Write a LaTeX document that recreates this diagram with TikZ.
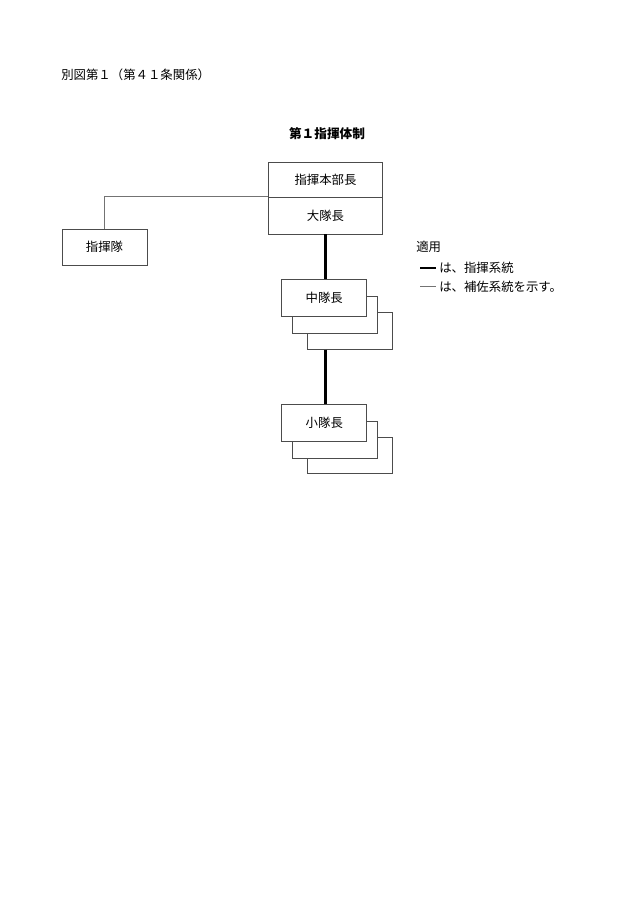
\documentclass[tikz,border=0pt]{standalone}
\usepackage{fontspec}
\setmainfont{Noto Sans CJK JP}
\newfontfamily\jpb{Noto Sans CJK JP}[BoldFont={* Bold}]
\begin{document}
\begin{tikzpicture}[x=0.75pt,y=-0.75pt,
  font=\fontsize{9.3pt}{11pt}\selectfont,
  box/.style={draw=black!70,line width=0.6pt,fill=white,inner sep=0pt},
  bigbox/.style={box,minimum width=85.1pt},
  smallbox/.style={box,minimum width=63.8pt,minimum height=27.4pt},
  thin/.style={draw=black!55,line width=0.6pt},
  thick/.style={draw=black,line width=1.6pt},
  txt/.style={inner sep=0pt,anchor=west}]
\useasboundingbox (0,0) rectangle (630,915);
% title texts
\node[txt] (head) at (61,75) {別図第１（第４１条関係）};
\node[inner sep=0pt,font=\fontsize{9.5pt}{11pt}\selectfont\bfseries] (title) at (327,134) {第１指揮体制};
% main boxes
\node[bigbox,minimum height=26.25pt] (hq) at (325.5,179.5) {指揮本部長};
\node[bigbox,minimum height=27.75pt] (dai) at (325.5,215.5) {大隊長};
\node[smallbox,minimum width=63.75pt,minimum height=27pt] (shiki) at (104.5,247) {指揮隊};
% chutai stack
\node[smallbox] (chu3) at (349.5,331) {};
\node[smallbox] (chu2) at (335,314.7) {};
\node[smallbox] (chu) at (324.2,297.7) {中隊長};
% shotai stack
\node[smallbox] (sho3) at (349.5,455.5) {};
\node[smallbox] (sho2) at (335,440) {};
\node[smallbox] (sho) at (324.3,422.8) {小隊長};
% connectors
\draw[thin] (dai.north west) -| (shiki.north);
\draw[thick] (dai.south) -- (dai.south |- chu.north);
\draw[thick] (dai.south |- chu3.south) -- (dai.south |- sho.north);
% legend
\node[txt] (leg) at (416,247) {適用};
\coordinate (la1) at (420,268);
\coordinate (lb1) at (436,268);
\coordinate (la2) at (420,286.5);
\coordinate (lb2) at (436,286.5);
\draw[thick] (la1) -- (lb1);
\draw[thin] (la2) -- (lb2);
\node[txt] (leg1) at (439,268) {は、指揮系統};
\node[txt] (leg2) at (439,286.5) {は、補佐系統を示す。};
\end{tikzpicture}
\end{document}
